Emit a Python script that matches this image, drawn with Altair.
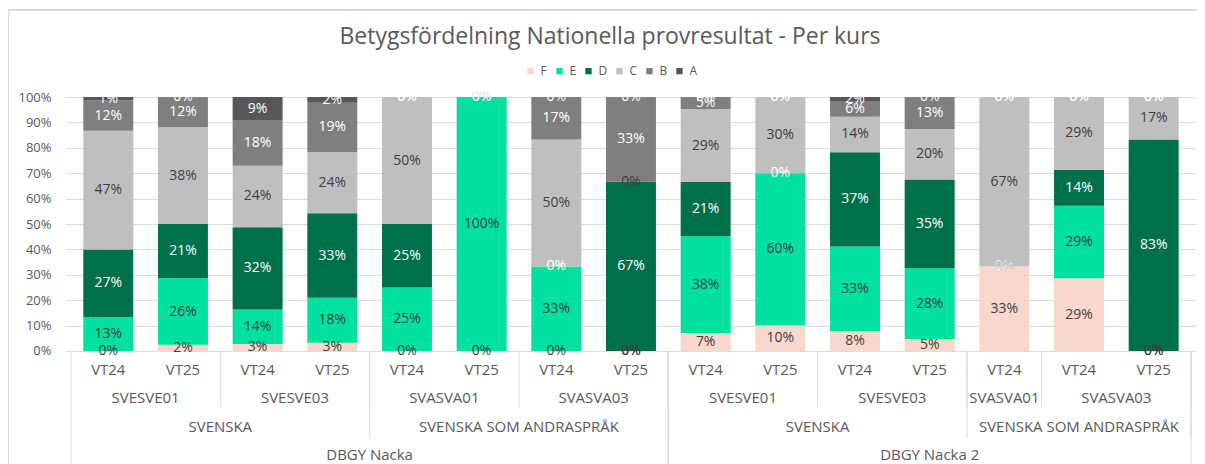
import altair as alt
import pandas as pd

title_text = "Betygsfördelning Nationella provresultat - Per kurs"

schools = ["DBGY Nacka"] * 8 + ["DBGY Nacka 2"] * 7
subjects = (["SVENSKA"] * 4 + ["SVENSKA SOM ANDRASPRÅK"] * 4
            + ["SVENSKA"] * 4 + ["SVENSKA SOM ANDRASPRÅK"] * 3)
courses = ["SVESVE01", "SVESVE01", "SVESVE03", "SVESVE03",
           "SVASVA01", "SVASVA01", "SVASVA03", "SVASVA03",
           "SVESVE01", "SVESVE01", "SVESVE03", "SVESVE03",
           "SVASVA01", "SVASVA03", "SVASVA03"]
terms = ["VT24", "VT25", "VT24", "VT25", "VT24", "VT25", "VT24", "VT25",
         "VT24", "VT25", "VT24", "VT25", "VT24", "VT24", "VT25"]

grades = ["F", "E", "D", "C", "B", "A"]
grade_colors = ["#F8D7CC", "#00E09E", "#00704A", "#BFBFBF", "#7F7F7F", "#575757"]
label_colors = ["#404040", "#404040", "#FFFFFF", "#404040", "#FFFFFF", "#FFFFFF"]

# percent of students per grade, one value per bar
share_F = [0, 2.4, 2.7, 3.2, 0, 0, 0, 0, 7.1, 10, 7.8, 4.7, 33.3, 28.6, 0]
share_E = [13.3, 26.2, 13.6, 17.7, 25, 100, 33.3, 0, 38.1, 60, 33.3, 27.9, 0, 28.6, 0]
share_D = [26.7, 21.4, 32.4, 33.3, 25, 0, 0, 66.7, 21.4, 0, 37.2, 34.9, 0, 14.2, 83.3]
share_C = [46.7, 38.1, 24.3, 24.2, 50, 0, 50, 0, 28.6, 30, 14.0, 19.9, 66.7, 28.6, 16.7]
share_B = [12.0, 11.9, 18.0, 19.4, 0, 0, 16.7, 33.3, 4.8, 0, 6.2, 12.6, 0, 0, 0]
share_A = [1.3, 0, 9.0, 2.2, 0, 0, 0, 0, 0, 0, 1.5, 0, 0, 0, 0]

y_ticks = [0, 0.1, 0.2, 0.3, 0.4, 0.5, 0.6, 0.7, 0.8, 0.9, 1.0]

shares = {"F": share_F, "E": share_E, "D": share_D,
          "C": share_C, "B": share_B, "A": share_A}

bars_df = pd.DataFrame({"pos": list(range(len(terms))), "school": schools,
                        "subject": subjects, "course": courses, "term": terms})

rows = []
for i in range(len(terms)):
    for k, g in enumerate(grades):
        rows.append({"pos": i, "grade": g, "gorder": k,
                     "value": shares[g][i] / 100.0, "lcolor": label_colors[k]})
long_df = pd.DataFrame(rows)

FONT = "Open Sans"
TXT = "#595959"
LINE = "#D9D9D9"
W, H = 1131, 254

xscale = alt.Scale(domain=[0, len(terms)], nice=False, zero=False)


def xenc(field):
    return alt.X(field + ":Q", scale=xscale, axis=None)


yaxis = alt.Axis(format=".0%", values=y_ticks, title=None, domain=False, ticks=False,
                 labelPadding=15, labelFontSize=13, labelColor=TXT, labelFont=FONT,
                 gridColor=LINE, labelOverlap=False)
yscale = alt.Scale(domain=[0, 1], nice=False)

stacked = alt.Chart(long_df).transform_stack(
    stack="value", groupby=["pos"], sort=[alt.SortField("gorder", order="ascending")],
    as_=["y0", "y1"]
).transform_calculate(cx="datum.pos + 0.5", ym="(datum.y0 + datum.y1) / 2")

bars = stacked.mark_bar(size=50).encode(
    x=xenc("cx"),
    y=alt.Y("y0:Q", scale=yscale, axis=yaxis),
    y2="y1:Q",
    color=alt.Color("grade:N", scale=alt.Scale(domain=grades, range=grade_colors),
                    sort=grades,
                    legend=alt.Legend(orient="none", legendX=459, legendY=-32,
                                      direction="horizontal", title=None,
                                      symbolType="square", symbolSize=40,
                                      symbolStrokeWidth=0, labelFontSize=12,
                                      labelColor=TXT, labelFont=FONT,
                                      columnPadding=6, labelOffset=4)),
)

labels = stacked.mark_text(fontSize=14, font=FONT, baseline="middle").encode(
    x=xenc("cx"),
    y=alt.Y("ym:Q", scale=yscale, axis=yaxis),
    text=alt.Text("value:Q", format=".0%"),
    color=alt.Color("lcolor:N", scale=None),
)

base = alt.Chart(bars_df).transform_calculate(
    mid="datum.pos + 0.5", right="datum.pos + 1"
)

txt = dict(fontSize=15, font=FONT, color=TXT, baseline="middle")

term_text = base.mark_text(**txt).encode(
    x=xenc("mid"), y=alt.value(273), text="term:N")

course_text = base.transform_aggregate(
    course_mid="mean(mid)", groupby=["school", "course"]
).mark_text(**txt).encode(
    x=xenc("course_mid"), y=alt.value(301), text="course:N")

subject_text = base.transform_aggregate(
    subject_mid="mean(mid)", groupby=["school", "subject"]
).mark_text(**txt).encode(
    x=xenc("subject_mid"), y=alt.value(330), text="subject:N")

school_text = base.transform_aggregate(
    school_mid="mean(mid)", groupby=["school"]
).mark_text(**txt).encode(
    x=xenc("school_mid"), y=alt.value(358), text="school:N")

course_rules = base.transform_aggregate(
    course_end="max(right)", groupby=["school", "course"]
).mark_rule(color=LINE, strokeWidth=1).encode(
    x=xenc("course_end"), y=alt.value(H), y2=alt.value(311))

subject_rules = base.transform_aggregate(
    subject_end="max(right)", groupby=["school", "subject"]
).mark_rule(color=LINE, strokeWidth=1).encode(
    x=xenc("subject_end"), y=alt.value(H), y2=alt.value(341))

school_rules = base.transform_aggregate(
    school_start="min(pos)", school_end="max(right)", groupby=["school"]
).transform_fold(["school_start", "school_end"], as_=["edge", "school_edge"]).mark_rule(
    color=LINE, strokeWidth=1).encode(
    x=xenc("school_edge"), y=alt.value(H), y2=alt.value(380))

border_left = alt.Chart(bars_df).mark_rule(color=LINE, strokeWidth=1).encode(
    x=alt.value(-57.5), y=alt.value(-87.5), y2=alt.value(380))
border_top = alt.Chart(bars_df).mark_rule(color=LINE, strokeWidth=1).encode(
    x=alt.value(-57.5), x2=alt.value(W + 20), y=alt.value(-87.5))

title_mark = alt.Chart(pd.DataFrame({"title": [title_text]})).mark_text(
    fontSize=23, font=FONT, color=TXT, baseline="middle", align="center"
).encode(x=alt.value(W / 2 - 21), y=alt.value(-60), text="title:N")

chart = alt.layer(
    border_left, border_top, title_mark,
    bars, labels,
    course_rules, subject_rules, school_rules,
    term_text, course_text, subject_text, school_text,
).properties(
    width=W, height=H,
    autosize=alt.AutoSizeParams(type="none"),
    padding={"left": 58, "top": 89, "right": 1, "bottom": 113},
).configure_view(stroke=None).configure_axis(gridColor=LINE)

chart.save("out.html", embed_options={"renderer": "svg", "actions": False})
